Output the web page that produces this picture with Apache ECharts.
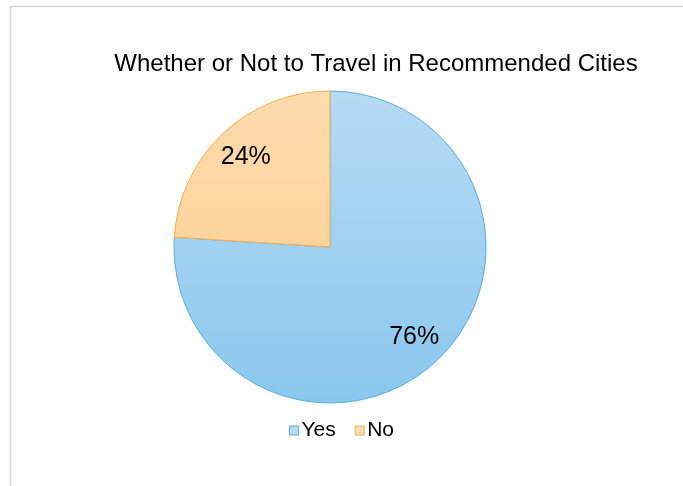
<!DOCTYPE html>
<html>
<head>
<meta charset="utf-8">
<script src="https://cdn.jsdelivr.net/npm/echarts@6/dist/echarts.min.js"></script>
<style>
  html, body { margin: 0; padding: 0; background: #ffffff; }
  #chart { width: 683px; height: 486px; }
</style>
</head>
<body>
<div id="chart"></div>
<script>
// Survey answers and their shares (percent)
const categories = ['Yes', 'No'];
const shares = [76, 24];

const titleText = 'Whether or Not to Travel in Recommended Cities';

// Vertical gradient spanning the whole pie, plus outline colour, per answer
const fills = [
  { top: '#b6dbf3', bottom: '#8ac7ee', edge: '#5aaee0' },
  { top: '#fedcae', bottom: '#fccb8b', edge: '#f4ae4c' }
];

const cx = 330, cy = 247, r = 156;

function grad(f) {
  return {
    type: 'linear', global: true,
    x: 0, y: cy - r, x2: 0, y2: cy + r,
    colorStops: [{ offset: 0, color: f.top }, { offset: 1, color: f.bottom }]
  };
}

const pieData = categories.map((name, i) => ({
  name: name,
  value: shares[i],
  itemStyle: { color: grad(fills[i]), borderColor: fills[i].edge, borderWidth: 1 }
}));

const chart = echarts.init(document.getElementById('chart'), null, { renderer: 'canvas' });
chart.setOption({
  animation: false,
  backgroundColor: '#ffffff',
  title: {
    text: titleText,
    left: 371,
    textAlign: 'center',
    top: 47,
    textStyle: {
      fontFamily: 'Liberation Sans, Arial, sans-serif',
      fontSize: 24,
      fontWeight: 'normal',
      color: '#000000'
    }
  },
  legend: {
    data: categories.map((name, i) => ({
      name: name,
      itemStyle: { color: fills[i].top, borderColor: fills[i].edge, borderWidth: 1 }
    })),
    left: 'center',
    top: 415,
    itemWidth: 9,
    itemHeight: 9,
    itemGap: 19,
    icon: 'rect',
    textStyle: {
      fontFamily: 'Liberation Sans, Arial, sans-serif',
      fontSize: 21,
      color: '#000000',
      padding: [0, 0, 0, -2]
    },
    selectedMode: false
  },
  graphic: [{
    type: 'rect',
    shape: { x: 10.5, y: 6.5, width: 720, height: 520 },
    style: { fill: 'none', stroke: '#d9d9d9', lineWidth: 1.5 },
    silent: true,
    z: -10
  }],
  series: [
    {
      type: 'pie',
      center: [cx, cy],
      radius: r,
      startAngle: 90,
      clockwise: true,
      label: { show: false },
      labelLine: { show: false },
      emphasis: { disabled: true },
      data: pieData
    },
    {
      // transparent ring used only to seat the percentage labels
      type: 'pie',
      center: [cx, cy],
      radius: [84, 156],
      startAngle: 90,
      clockwise: true,
      silent: true,
      itemStyle: { color: 'rgba(0,0,0,0)', borderWidth: 0 },
      label: {
        show: true,
        position: 'inside',
        formatter: p => p.value + '%',
        fontFamily: 'Liberation Sans, Arial, sans-serif',
        fontSize: 25,
        color: '#000000'
      },
      labelLine: { show: false },
      emphasis: { disabled: true },
      data: categories.map((name, i) => ({ name: name, value: shares[i] }))
    }
  ]
});
</script>
</body>
</html>
